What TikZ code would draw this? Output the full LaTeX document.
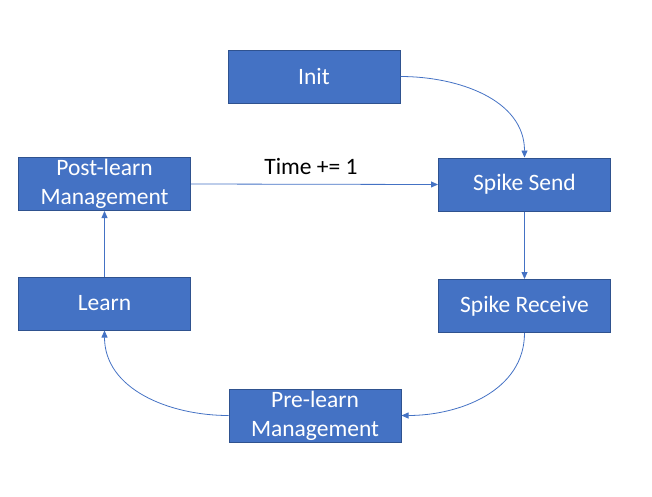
\documentclass[tikz,border=0pt]{standalone}
\usepackage{fontspec}
\setmainfont{Carlito}
\usetikzlibrary{arrows.meta}
\definecolor{box_fill}{HTML}{4472C4}
\definecolor{box_edge}{HTML}{2F528F}
\definecolor{edge_blue}{HTML}{4472C4}
\begin{document}
\begin{tikzpicture}[x=1pt,y=-1pt,->,>={Triangle[width=6pt,length=7pt]},line width=0.8pt]
    \tikzstyle{box}=[draw=box_edge, fill=box_fill, rectangle, minimum width=172pt, minimum height=53pt, text=white, align=center, font=\fontsize{23.5}{29}\selectfont, inner sep=0pt, line width=1pt]
    \tikzstyle{flow}=[draw=edge_blue]
    \useasboundingbox (0,0) rectangle (652,496);

    \node[box] (init)    at (314,76.5)  {Init};
    \node[box] (post)    at (104.5,184) {Post-learn\\Management};
    \node[box] (send)    at (524.5,184.5) {Spike Send};
    \node[box] (learn)   at (104.5,303.5) {Learn};
    \node[box] (receive) at (524.5,306) {Spike Receive};
    \node[box] (pre)     at (315,415.5) {Pre-learn\\Management};
    \node[text=black, font=\fontsize{23.5}{29}\selectfont] (tick) at (311,166) {Time += 1};

    \path
     (init.east) edge[flow, out=0, in=90] (send.north)
     (post.east) edge[flow] (send.west)
     (send.south) edge[flow] (receive.north)
     (receive.south) edge[flow, out=-90, in=0] (pre.east)
     (pre.west) edge[flow, out=180, in=-90] (learn.south)
     (learn.north) edge[flow] (post.south)
     ;
\end{tikzpicture}
\end{document}
